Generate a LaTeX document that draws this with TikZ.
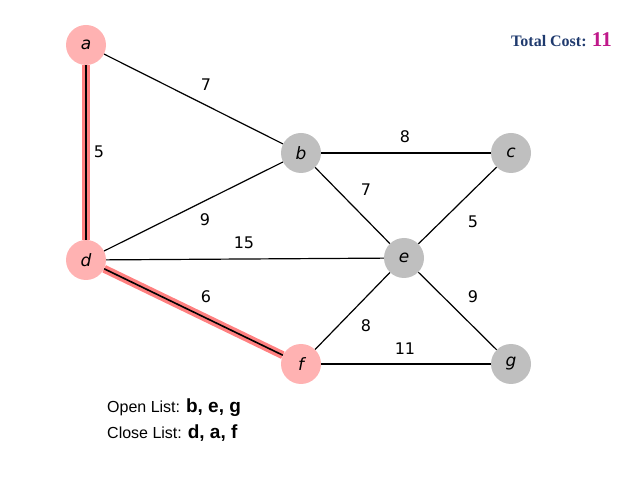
\documentclass[tikz,border=0pt]{standalone}
\usepackage{fontspec}
\setmainfont{Liberation Sans}
\newfontfamily\serifx{Liberation Serif}
\newfontfamily\lblf{DejaVu Sans}
\begin{document}
\begin{tikzpicture}[x=1pt,y=-1pt,
 vtx/.style={circle,minimum size=40pt,inner sep=0pt,font=\lblf\itshape\fontsize{17}{20}\selectfont},
 vis/.style={vtx,fill=red!30!white},
 unv/.style={vtx,fill=black!25},
 edge/.style={line width=1.2pt},
 hl/.style={line width=8pt,draw=red!50!white},
 hlc/.style={line width=1.6pt,draw=black},
 wt/.style={font=\lblf\fontsize{16}{19}\selectfont}]
\useasboundingbox (0,0) rectangle (638,478);
\node[vis] (a) at (86,45) {a};
\node[unv] (b) at (301,153) {b};
\node[unv] (c) at (511,153) {c};
\node[vis] (d) at (86,260) {d};
\node[unv] (e) at (404,258) {e};
\node[vis] (f) at (301,364) {f};
\node[unv] (g) at (511,364) {g};
\draw[edge] (a) -- (b);
\draw[edge] (b) -- (c);
\draw[edge] (b) -- (e);
\draw[edge] (d) -- (b);
\draw[edge] (d) -- (e);
\draw[edge] (c) -- (e);
\draw[edge] (e) -- (f);
\draw[edge] (f) -- (g);
\draw[edge] (e) -- (g);
\draw[hl] (a) -- (d);
\draw[hlc] (a) -- (d);
\draw[hl] (d) -- (f);
\draw[hlc] (d) -- (f);
\node[wt] (w1) at (206,85) {7};
\node[wt] (w2) at (99,152) {5};
\node[wt] (w3) at (405,137) {8};
\node[wt] (w4) at (366,190) {7};
\node[wt] (w5) at (205,220) {9};
\node[wt] (w6) at (244,243) {15};
\node[wt] (w7) at (473,222) {5};
\node[wt] (w8) at (206,297) {6};
\node[wt] (w9) at (366,326) {8};
\node[wt] (w10) at (405,349) {11};
\node[wt] (w11) at (473,297) {9};
\node[anchor=west,inner sep=0pt,font=\fontsize{16}{19}\selectfont] (ol) at (107,408) {Open List: \textbf{\fontsize{19}{22}\selectfont b, e, g}};
\node[anchor=west,inner sep=0pt,font=\fontsize{16}{19}\selectfont] (cl) at (107,433) {Close List: \textbf{\fontsize{19}{22}\selectfont d, a, f}};
\node[anchor=east,inner sep=0pt] (tc) at (612,40) {\serifx\fontsize{16}{19}\selectfont\textbf{\color[HTML]{1F3A6E}Total Cost: }\textbf{\color[HTML]{C0188A}\fontsize{21}{24}\selectfont 11}};
\end{tikzpicture}
\end{document}
